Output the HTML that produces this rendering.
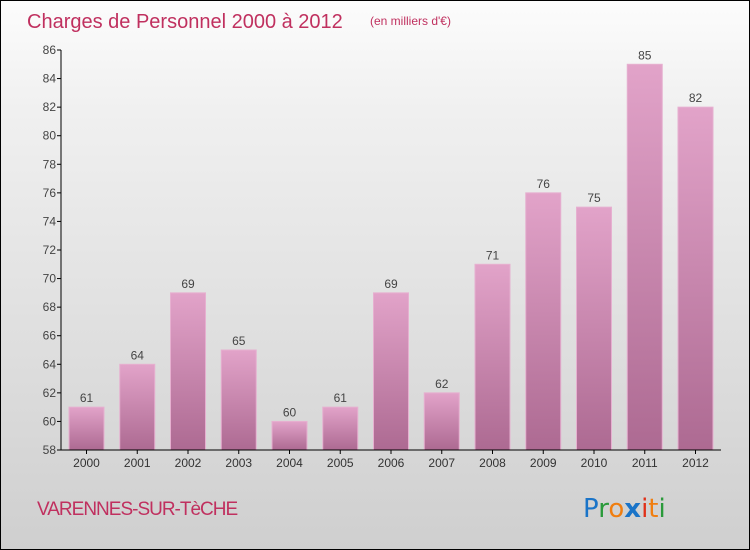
<!DOCTYPE html>
<html><head><meta charset="utf-8"><style>
body{margin:0}
#c{width:748px;height:548px;border:1px solid #000;background:linear-gradient(#fcfcfc,#f0f0f0 20%,#cfcfcf);position:relative;font-family:"Liberation Sans",sans-serif}
</style></head><body>
<div id="c">
<svg id="s" width="748" height="548" style="position:absolute;left:0;top:0">
<defs><linearGradient id="g" x1="0" y1="0" x2="0" y2="1"><stop offset="0" stop-color="#e2a3c9"/><stop offset="1" stop-color="#ad6a92"/></linearGradient></defs>
<text x="26" y="27" font-size="20" fill="#c0305f">Charges de Personnel 2000 à 2012</text>
<text x="369" y="24" font-size="12" fill="#c0305f">(en milliers d'€)</text>
<text x="36" y="514" font-size="19" fill="#c0305f" letter-spacing="-1">VARENNES-SUR-TèCHE</text>
<g font-size="26" font-family="'DejaVu Sans',sans-serif">
<text x="582" y="516"><tspan fill="#1a74c8">P</tspan><tspan fill="#2a9a3a">r</tspan><tspan fill="#f07e10">o</tspan><tspan fill="#1a74c8" font-weight="bold">x</tspan><tspan fill="#e03018">i</tspan><tspan fill="#f07e10">t</tspan><tspan fill="#2a9a3a">i</tspan></text></g>
<g id="p"></g>
</svg></div>
<script>
const years=["2000","2001","2002","2003","2004","2005","2006","2007","2008","2009","2010","2011","2012"];
const values=[61,64,69,65,60,61,69,62,71,76,75,85,82];
const ticks=[58,60,62,64,66,68,70,72,74,76,78,80,82,84,86];
const ns="http://www.w3.org/2000/svg",p=document.getElementById('p');
const y=v=>449-(v-58)*(400/28), x=i=>85.5+i*50.75;
function mk(t,a){const e=document.createElementNS(ns,t);for(const k in a)e.setAttribute(k,a[k]);p.appendChild(e);return e;}
ticks.forEach(t=>{
 const l=mk('line',{x1:56,x2:60,y1:y(t),y2:y(t),stroke:'#000'});
 
 
 const tx=mk('text',{x:55,y:y(t)+4,'font-size':12,fill:'#444','text-anchor':'end'});tx.textContent=t;
 
 
});
values.forEach((v,i)=>{
 const b=mk('rect',{x:x(i)-17.5,y:y(v),width:35,height:y(58)-y(v),fill:'url(#g)',stroke:'#e6b0d0','stroke-width':1});
 
 
 const t=mk('text',{x:x(i),y:y(v)-5,'font-size':12,fill:'#444','text-anchor':'middle'});t.textContent=v;
 
 
 const k=mk('line',{x1:x(i),x2:x(i),y1:449,y2:453,stroke:'#000'});
 
 
 const xl=mk('text',{x:x(i),y:466,'font-size':12,fill:'#333','text-anchor':'middle'});xl.textContent=years[i];
 
 
});
const ya=mk('line',{x1:60,x2:60,y1:y(86),y2:449,stroke:'#000'});


const xa=mk('line',{x1:60,x2:720,y1:449,y2:449,stroke:'#000'});


</script>
</body></html>
